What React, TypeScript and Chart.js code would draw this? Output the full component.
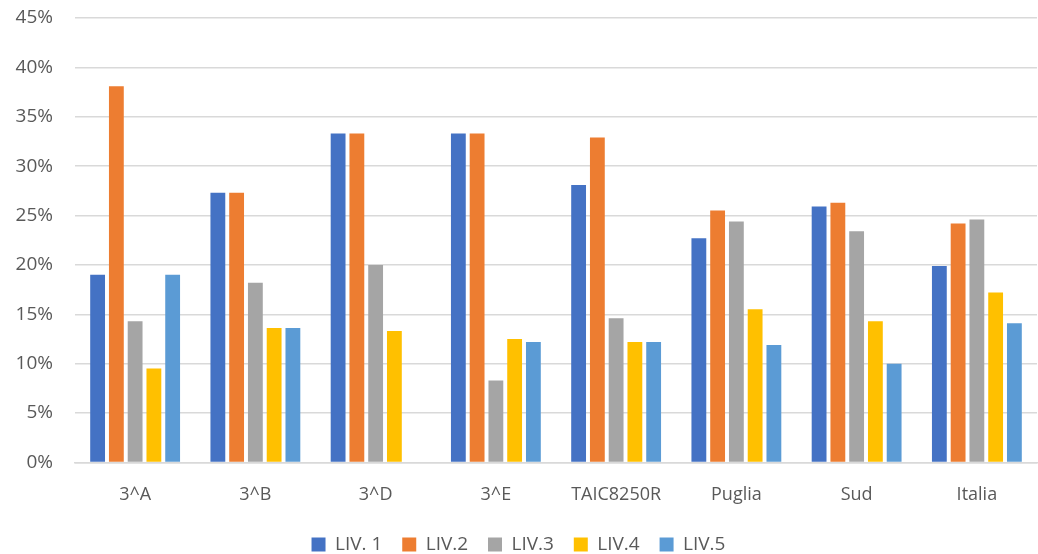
import React, { useEffect, useRef } from "react";
import { Chart, registerables } from "chart.js";

Chart.register(...registerables);

const categories = ["3^A", "3^B", "3^D", "3^E", "TAIC8250R", "Puglia", "Sud", "Italia"];
const seriesNames = ["LIV. 1", "LIV.2", "LIV.3", "LIV.4", "LIV.5"];
const liv1 = [0.19, 0.273, 0.333, 0.333, 0.281, 0.227, 0.259, 0.199];
const liv2 = [0.381, 0.273, 0.333, 0.333, 0.329, 0.255, 0.263, 0.242];
const liv3 = [0.143, 0.182, 0.2, 0.083, 0.146, 0.244, 0.234, 0.246];
const liv4 = [0.095, 0.136, 0.133, 0.125, 0.122, 0.155, 0.143, 0.172];
const liv5 = [0.19, 0.136, 0, 0.122, 0.122, 0.119, 0.1, 0.141];
const colors = ["#4472C4", "#ED7D31", "#A5A5A5", "#FFC000", "#5B9BD5"];
const yTicks = [0, 0.05, 0.1, 0.15, 0.2, 0.25, 0.3, 0.35, 0.4, 0.45];

const FONT = "'Open Sans', 'Liberation Sans', sans-serif";

export default function App() {
  const ref = useRef<HTMLCanvasElement | null>(null);
  useEffect(() => {
    document.body.style.margin = "0";
    const values = [liv1, liv2, liv3, liv4, liv5];
    const chart = new Chart(ref.current as HTMLCanvasElement, {
      type: "bar",
      data: {
        labels: categories,
        datasets: seriesNames.map((n, i) => ({
          label: n,
          data: values[i],
          backgroundColor: colors[i],
          borderWidth: 0,
          categoryPercentage: 0.78,
          barPercentage: 0.79,
        })),
      },
      options: {
        animation: false,
        responsive: false,
        maintainAspectRatio: false,
        layout: { padding: { left: 0, right: 1, top: 18, bottom: -10 } },
        plugins: {
          tooltip: { enabled: false },
          legend: {
            position: "bottom",
            labels: {
              boxWidth: 14,
              boxHeight: 14,
              color: "#595959",
              font: { family: FONT, size: 19 },
              padding: 10,
              generateLabels: (c: any) => {
                const items = Chart.defaults.plugins.legend.labels.generateLabels(c);
                return items.map((it: any, i: number) => ({
                  ...it,
                  text: i < items.length - 1 ? it.text + "  " : it.text,
                }));
              },
            },
          },
        },
        scales: {
          x: {
            grid: { display: false, drawTicks: false },
            border: { color: "#D9D9D9", width: 1.5 },
            afterFit: (s: any) => {
              s.height = s.height - 3;
            },
            ticks: {
              color: "#595959",
              font: { family: FONT, size: 18 },
              padding: 22,
              maxRotation: 0,
            },
          },
          y: {
            min: 0,
            max: 0.45,
            afterFit: (s: any) => {
              s.width = 75;
              s.paddingTop = 0;
              s.paddingBottom = 0;
            },
            afterBuildTicks: (s: any) => {
              s.ticks = yTicks.map((v) => ({ value: v }));
            },
            grid: { color: "#D9D9D9", lineWidth: 1.5, drawTicks: false },
            border: { display: false },
            ticks: {
              color: "#595959",
              font: { family: FONT, size: 19 },
              padding: 22,
              callback: (v: any) => Math.round(Number(v) * 100) + "%",
            },
          },
        },
      },
    });
    return () => chart.destroy();
  }, []);
  return (
    <div style={{ position: "relative", width: 1038, height: 554 }}>
      <canvas ref={ref} width={1038} height={554} />
    </div>
  );
}
